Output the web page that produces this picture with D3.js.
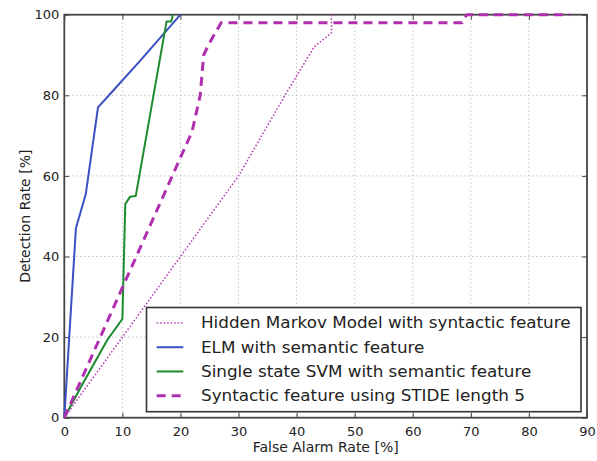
<!DOCTYPE html>
<html>
<head>
<meta charset="utf-8">
<script src="https://cdn.jsdelivr.net/npm/d3@7"></script>
<style>
  body { margin: 0; background: #fff; }
  text { font-family: "DejaVu Sans", sans-serif; fill: #222; }
</style>
</head>
<body>
<div id="chart"></div>
<script>
// curves: [false alarm %, detection %]
const hmmPts = [[0, 0], [10, 20], [20, 40], [30, 60], [38, 80], [43, 92], [46, 95.5], [46, 100]];
const elmPts = [[0, 0], [2, 47], [3.7, 55.5], [5.8, 77], [8, 80.5], [13, 88.5], [20, 100]];
const svmPts = [[0, 0], [3, 8], [7.5, 19.5], [10, 24.5], [10.5, 53], [11.3, 54.8], [12.3, 55], [17.6, 98.3], [18.4, 98.3], [18.7, 100]];
const stidePts = [[0, 0], [22, 71], [23.4, 80], [24, 90], [25, 93], [27, 98], [68.5, 98], [69.3, 100], [87, 100]];

const seriesNames = [
  "Hidden Markov Model with syntactic feature",
  "ELM with semantic feature",
  "Single state SVM with semantic feature",
  "Syntactic feature using STIDE length 5"
];
const xTicks = [0, 10, 20, 30, 40, 50, 60, 70, 80, 90];
const yTicks = [0, 20, 40, 60, 80, 100];

const series = [
  { name: seriesNames[0], pts: hmmPts, color: "#b540b5", width: 1.6, dash: "1.5,2" },
  { name: seriesNames[1], pts: elmPts, color: "#3a50c2", width: 2, dash: null },
  { name: seriesNames[2], pts: svmPts, color: "#1e8a2e", width: 2, dash: null },
  { name: seriesNames[3], pts: stidePts, color: "#b02fae", width: 3, dash: "9,6" }
];

const W = 597, H = 461;
const m = { left: 64.3, right: 587, top: 14.7, bottom: 417.7 };

const svg = d3.select("#chart").append("svg")
  .attr("width", W)
  .attr("height", H);

const x = d3.scaleLinear().domain([0, 90]).range([m.left, m.right]);
const y = d3.scaleLinear().domain([0, 100]).range([m.bottom, m.top]);

// grid
const grid = svg.append("g");
grid.selectAll("line.gx")
  .data(xTicks.slice(1, -1))
  .enter().append("line")
  .attr("x1", d => x(d)).attr("x2", d => x(d))
  .attr("y1", m.top).attr("y2", m.bottom)
  .attr("stroke", "#aaa").attr("stroke-width", 1).attr("stroke-dasharray", "1,3");
grid.selectAll("line.gy")
  .data(yTicks.slice(1, -1))
  .enter().append("line")
  .attr("y1", d => y(d)).attr("y2", d => y(d))
  .attr("x1", m.left).attr("x2", m.right)
  .attr("stroke", "#aaa").attr("stroke-width", 1).attr("stroke-dasharray", "1,3");

// inward ticks on all four sides
const tickLen = 5;
const axB = d3.axisBottom(x).tickValues(xTicks).tickSize(-tickLen).tickPadding(9).tickFormat(d3.format("d"));
const axT = d3.axisTop(x).tickValues(xTicks).tickSize(-tickLen).tickFormat("");
const axL = d3.axisLeft(y).tickValues(yTicks).tickSize(-tickLen).tickPadding(5).tickFormat(d3.format("d"));
const axR = d3.axisRight(y).tickValues(yTicks).tickSize(-tickLen).tickFormat("");

function styleAxis(g) {
  g.select(".domain").remove();
  g.selectAll(".tick line").attr("stroke", "#444").attr("stroke-width", 1);
  g.selectAll(".tick text").attr("font-size", 13).attr("fill", "#222");
}
svg.append("g").attr("transform", `translate(0,${m.bottom})`).call(axB).call(styleAxis);
svg.append("g").attr("transform", `translate(0,${m.top})`).call(axT).call(styleAxis);
svg.append("g").attr("transform", `translate(${m.left},0)`).call(axL).call(styleAxis);
svg.append("g").attr("transform", `translate(${m.right},0)`).call(axR).call(styleAxis);

// frame
svg.append("rect")
  .attr("x", m.left).attr("y", m.top)
  .attr("width", m.right - m.left).attr("height", m.bottom - m.top)
  .attr("fill", "none").attr("stroke", "#444").attr("stroke-width", 1.8);

// curves
const line = d3.line().x(d => x(d[0])).y(d => y(d[1]));
const plot = svg.append("g");
series.forEach(s => {
  plot.append("path")
    .datum(s.pts)
    .attr("d", line)
    .attr("fill", "none")
    .attr("stroke", s.color)
    .attr("stroke-width", s.width)
    .attr("stroke-dasharray", s.dash)
    .attr("stroke-linejoin", "round");
});

// axis titles
svg.append("text")
  .attr("x", (m.left + m.right) / 2).attr("y", 452)
  .attr("text-anchor", "middle").attr("font-size", 14)
  .text("False Alarm Rate [%]");
svg.append("text")
  .attr("transform", `translate(30,${(m.top + m.bottom) / 2}) rotate(-90)`)
  .attr("text-anchor", "middle").attr("font-size", 14)
  .text("Detection Rate [%]");

// legend
const leg = svg.append("g");
leg.append("rect")
  .attr("x", 146.5).attr("y", 307.5)
  .attr("width", 434.5).attr("height", 104.2)
  .attr("fill", "#fff").attr("stroke", "#333").attr("stroke-width", 1.6);
const rowY = d3.scalePoint().domain(seriesNames).range([323, 395.7]);
const legTexts = [];
series.forEach(s => {
  const yy = rowY(s.name);
  leg.append("line")
    .attr("x1", 156.7).attr("x2", 183.3)
    .attr("y1", yy).attr("y2", yy)
    .attr("stroke", s.color)
    .attr("stroke-width", s.width)
    .attr("stroke-dasharray", s.dash);
  legTexts.push(leg.append("text")
    .attr("x", 0).attr("y", 0)
    .attr("dy", "0.36em")
    .attr("font-size", 15)
    .attr("transform", `translate(201,${yy})`)
    .text(s.name));
});
// the legend lettering in the picture is a little wider than the font: stretch to fit
const sx = 370 / legTexts[0].node().getComputedTextLength();
legTexts.forEach((t, i) => t.attr("transform", `translate(201,${rowY(seriesNames[i])}) scale(${sx},1)`));
</script>
</body>
</html>
